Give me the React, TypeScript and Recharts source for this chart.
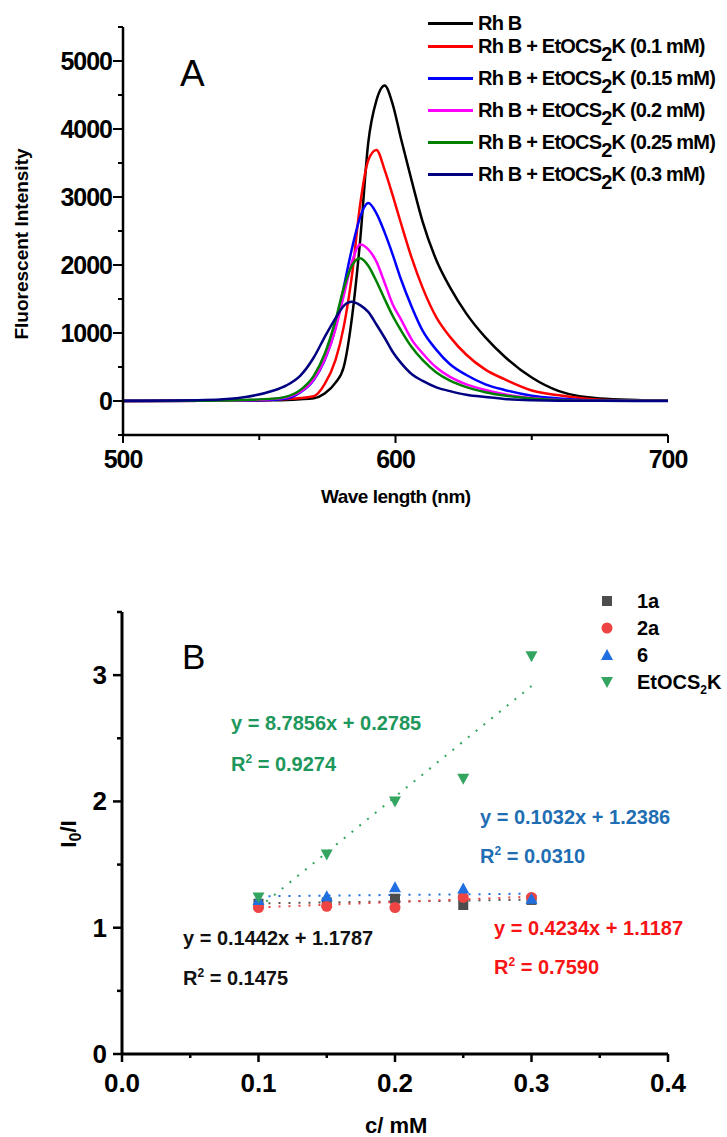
import { LineChart, Line, XAxis, YAxis, ComposedChart, Scatter, Legend } from 'recharts';

const FONT = '"Liberation Sans", Arial, sans-serif';

// ---- panel A: emission spectra ----
const wavelength = [500, 530, 545, 555, 560, 565, 570, 574, 578, 581, 584, 587, 590, 593, 596, 599, 602, 606, 610, 615, 620, 626, 633, 640, 650, 660, 675, 700];
const rhB = [0, 2, 5, 10, 15, 25, 40, 110, 270, 500, 1220, 2350, 3800, 4420, 4640, 4360, 3860, 3230, 2630, 2070, 1670, 1285, 935, 655, 345, 145, 38, 4];
const etoc01 = [0, 3, 8, 18, 30, 45, 70, 248, 604, 1090, 1840, 2880, 3540, 3690, 3400, 3020, 2614, 2097, 1660, 1230, 943, 680, 462, 320, 155, 84, 20, 4];
const etoc015 = [0, 3, 8, 18, 35, 125, 310, 600, 1080, 1670, 2238, 2700, 2910, 2760, 2480, 2150, 1790, 1380, 1030, 752, 540, 382, 245, 163, 77, 38, 8, 2];
const etoc02 = [0, 3, 12, 30, 55, 135, 320, 610, 1062, 1549, 2040, 2301, 2230, 2050, 1740, 1420, 1200, 900, 699, 492, 354, 244, 162, 98, 45, 14, 4, 2];
const etoc025 = [0, 5, 15, 35, 65, 160, 370, 690, 1190, 1660, 1990, 2100, 1990, 1760, 1500, 1250, 1040, 790, 600, 420, 300, 205, 130, 80, 35, 12, 4, 2];
const etoc03 = [2, 15, 60, 150, 230, 370, 640, 940, 1220, 1400, 1460, 1410, 1310, 1125, 930, 720, 560, 393, 295, 200, 145, 92, 58, 31, 12, 4, 2, 1];

const specKeys = ['rhb', 'c01', 'c015', 'c02', 'c025', 'c03'];
const specColors = ['#000000', '#ff0000', '#0000ff', '#ff00ff', '#008000', '#000080'];
const specConc = ['', '0.1', '0.15', '0.2', '0.25', '0.3'];
const waveTicks = [500, 550, 600, 650, 700];
const intensityTicks = [-500, 0, 500, 1000, 1500, 2000, 2500, 3000, 3500, 4000, 4500, 5000, 5500];

const specData = wavelength.map((wl, i) => ({
  wl,
  rhb: rhB[i],
  c01: etoc01[i],
  c015: etoc015[i],
  c02: etoc02[i],
  c025: etoc025[i],
  c03: etoc03[i],
}));

// ---- panel B: I0/I vs concentration ----
const conc = [0.1, 0.15, 0.2, 0.25, 0.3];
const ratio1a = [1.19, 1.2, 1.23, 1.18, 1.22];
const ratio2a = [1.16, 1.17, 1.16, 1.24, 1.24];
const ratio6 = [1.22, 1.25, 1.32, 1.31, 1.23];
const ratioEt = [1.24, 1.58, 2.0, 2.18, 3.15];

const quencherNames = ['1a', '2a', '6', 'EtOCS2K'];
const fitSlope = [0.1442, 0.4234, 0.1032, 8.7856];
const fitIntercept = [1.1787, 1.1187, 1.2386, 0.2785];
const fitR2 = [0.1475, 0.759, 0.031, 0.9274];
const concTicks = [0, 0.05, 0.1, 0.15, 0.2, 0.25, 0.3, 0.35, 0.4];
const ratioTicks = [0, 0.5, 1, 1.5, 2, 2.5, 3, 3.5];

const markerColors = ['#4d4d4d', '#ef4444', '#1f6fe0', '#33a560'];
const fitColors = ['#555555', '#ef4444', '#1f6fe0', '#33a560'];
const noteColors = ['#111111', '#f81414', '#1f6eb4', '#1d975b'];
const notePos = [
  { x: 183, y: 938, y2: 978 },
  { x: 494, y: 928, y2: 967 },
  { x: 480, y: 817, y2: 856 },
  { x: 231, y: 723, y2: 764 },
];

const ratios = [ratio1a, ratio2a, ratio6, ratioEt];
const points = ratios.map((r) => conc.map((x, i) => ({ x, y: r[i] })));
const fitLines = fitSlope.map((m, k) =>
  [conc[0], conc[conc.length - 1]].map((x) => ({ x, y: m * x + fitIntercept[k] }))
);

function Marker({ kind, cx, cy, color }: { kind: number; cx: number; cy: number; color: string }) {
  if (kind === 0) return <rect x={cx - 5} y={cy - 5} width={10} height={10} fill={color} />;
  if (kind === 1) return <circle cx={cx} cy={cy} r={5.5} fill={color} />;
  if (kind === 2) return <path d={`M${cx},${cy - 6} L${cx + 6},${cy + 5} L${cx - 6},${cy + 5} Z`} fill={color} />;
  return <path d={`M${cx - 6},${cy - 5} L${cx + 6},${cy - 5} L${cx},${cy + 6} Z`} fill={color} />;
}

const tickFont = { fontFamily: FONT, fontWeight: 700, fill: '#000' };

function YTickA({ x, y, payload }: any) {
  const major = payload.value % 1000 === 0;
  return (
    <g>
      <line x1={x} x2={x - (major ? 10 : 5)} y1={y} y2={y} stroke="#000" strokeWidth={2} />
      {major && (
        <text x={x - 11} y={y} textAnchor="end" dominantBaseline="central" fontSize={25} letterSpacing={-1} {...tickFont}>
          {payload.value}
        </text>
      )}
    </g>
  );
}

function XTickA({ x, y, payload }: any) {
  const major = payload.value % 100 === 0;
  return (
    <g>
      <line x1={x} x2={x} y1={y} y2={y + (major ? 8 : 5)} stroke="#000" strokeWidth={2} />
      {major && (
        <text x={x} y={y + 24} textAnchor="middle" dominantBaseline="central" fontSize={25} letterSpacing={-1} {...tickFont}>
          {payload.value}
        </text>
      )}
    </g>
  );
}

function YTickB({ x, y, payload }: any) {
  const major = Number.isInteger(payload.value);
  return (
    <g>
      <line x1={x} x2={x - (major ? 9 : 5)} y1={y} y2={y} stroke="#000" strokeWidth={2.5} />
      {major && (
        <text x={x - 15} y={y} textAnchor="end" dominantBaseline="central" fontSize={26} {...tickFont}>
          {payload.value}
        </text>
      )}
    </g>
  );
}

function XTickB({ x, y, payload }: any) {
  const v = payload.value;
  const major = Math.abs(v * 10 - Math.round(v * 10)) < 1e-6;
  return (
    <g>
      <line x1={x} x2={x} y1={y} y2={y + (major ? 8 : 4)} stroke="#000" strokeWidth={2.5} />
      {major && (
        <text x={x} y={y + 29} textAnchor="middle" dominantBaseline="central" fontSize={26} {...tickFont}>
          {v.toFixed(1)}
        </text>
      )}
    </g>
  );
}

function SpectraLegend() {
  return (
    <div style={{ fontFamily: FONT, fontWeight: 700, fontSize: 20, letterSpacing: -0.8, color: '#000' }}>
      {specKeys.map((k, i) => (
        <div key={k} style={{ height: 23, paddingBottom: i ? 9 : 0, display: 'flex', alignItems: 'center', whiteSpace: 'nowrap' }}>
          <span style={{ display: 'inline-block', width: 45, height: 3, background: specColors[i], marginRight: 5 }} />
          {i === 0 ? (
            <span>Rh B</span>
          ) : (
            <span>
              Rh B + EtOCS<span style={{ position: 'relative', top: 8 }}>2</span>K ({specConc[i]} mM)
            </span>
          )}
        </div>
      ))}
    </div>
  );
}

function QuencherLegend() {
  return (
    <div style={{ fontFamily: FONT, fontWeight: 700, fontSize: 20, color: '#000' }}>
      {quencherNames.map((n, i) => (
        <div key={n} style={{ height: 27, display: 'flex', alignItems: 'center', whiteSpace: 'nowrap' }}>
          <svg width={20} height={20} style={{ marginRight: 20 }}>
            <Marker kind={i} cx={10} cy={10} color={markerColors[i]} />
          </svg>
          {n === 'EtOCS2K' ? (
            <span>
              EtOCS<span style={{ fontSize: 12, position: 'relative', top: 5 }}>2</span>K
            </span>
          ) : (
            <span>{n}</span>
          )}
        </div>
      ))}
    </div>
  );
}

function Note({ x, y, size, color, weight = 700, children }: any) {
  return (
    <div
      style={{
        position: 'absolute',
        left: x,
        top: y - size * 0.5,
        fontSize: size,
        lineHeight: 1,
        color,
        fontWeight: weight,
        whiteSpace: 'nowrap',
      }}
    >
      {children}
    </div>
  );
}

function Rotated({ cx, cy, size, children }: any) {
  return (
    <div
      style={{
        position: 'absolute',
        left: cx,
        top: cy,
        fontSize: size,
        fontWeight: 700,
        lineHeight: 1,
        whiteSpace: 'nowrap',
        transform: 'translate(-50%, -50%) rotate(-90deg)',
      }}
    >
      {children}
    </div>
  );
}

export default function App() {
  return (
    <div style={{ position: 'absolute', left: 0, top: 0, width: 727, height: 1137, background: '#fff', fontFamily: FONT, color: '#000', overflow: 'hidden' }}>
      <div style={{ position: 'absolute', left: 0, top: 0 }}>
        <LineChart width={727} height={520} data={specData} margin={{ top: 27, right: 59, bottom: 45, left: 53 }}>
          <XAxis
            dataKey="wl"
            type="number"
            domain={[500, 700]}
            ticks={waveTicks}
            interval={0}
            height={40}
            tickSize={0}
            tickMargin={0}
            tickLine={false}
            axisLine={{ stroke: '#000', strokeWidth: 2.5 }}
            tick={(p: any) => <XTickA {...p} />}
          />
          <YAxis
            type="number"
            domain={[-500, 5500]}
            ticks={intensityTicks}
            interval={0}
            width={70}
            tickSize={0}
            tickMargin={0}
            tickLine={false}
            allowDataOverflow
            axisLine={{ stroke: '#000', strokeWidth: 2.5 }}
            tick={(p: any) => <YTickA {...p} />}
          />
          <Legend
            layout="vertical"
            align="center"
            verticalAlign="middle"
            content={() => <SpectraLegend />}
            wrapperStyle={{ left: 428, top: 11.5, width: 299 }}
          />
          {specKeys.map((k, i) => (
            <Line
              key={k}
              type="monotone"
              dataKey={k}
              stroke={specColors[i]}
              strokeWidth={2.5}
              dot={false}
              isAnimationActive={false}
            />
          ))}
        </LineChart>
      </div>

      <Note x={180} y={73} size={37} color="#000" weight={400}>A</Note>
      <Rotated cx={21} cy={244} size={19}>Fluorescent Intensity</Rotated>
      <Note x={321} y={496} size={19} color="#000">
        <span style={{ letterSpacing: -0.5 }}>Wave length (nm)</span>
      </Note>

      <div style={{ position: 'absolute', left: 0, top: 560 }}>
        <ComposedChart width={727} height={577} margin={{ top: 52, right: 59, bottom: 43, left: 52 }}>
          <XAxis
            dataKey="x"
            type="number"
            domain={[0, 0.4]}
            ticks={concTicks}
            interval={0}
            height={40}
            tickSize={0}
            tickMargin={0}
            tickLine={false}
            allowDataOverflow
            axisLine={{ stroke: '#000', strokeWidth: 3 }}
            tick={(p: any) => <XTickB {...p} />}
          />
          <YAxis
            dataKey="y"
            type="number"
            domain={[0, 3.5]}
            ticks={ratioTicks}
            interval={0}
            width={70}
            tickSize={0}
            tickMargin={0}
            tickLine={false}
            allowDataOverflow
            axisLine={{ stroke: '#000', strokeWidth: 3 }}
            tick={(p: any) => <YTickB {...p} />}
          />
          <Legend
            layout="vertical"
            align="center"
            verticalAlign="middle"
            content={() => <QuencherLegend />}
            wrapperStyle={{ left: 597, top: 27.5, width: 130 }}
          />
          {fitLines.map((d, k) => (
            <Line
              key={'fit' + k}
              data={d}
              dataKey="y"
              type="linear"
              stroke={fitColors[k]}
              strokeWidth={2}
              strokeDasharray="2 8"
              dot={false}
              isAnimationActive={false}
            />
          ))}
          {points.map((d, k) => (
            <Scatter
              key={quencherNames[k]}
              name={quencherNames[k]}
              data={d}
              dataKey="y"
              isAnimationActive={false}
              shape={(p: any) => <Marker kind={k} cx={p.cx} cy={p.cy} color={markerColors[k]} />}
            />
          ))}
        </ComposedChart>
      </div>

      <Note x={182} y={656} size={35} color="#000" weight={400}>B</Note>
      <Rotated cx={69} cy={834} size={22}>
        I<span style={{ fontSize: 16, position: 'relative', top: 5 }}>0</span>/I
      </Rotated>
      <Note x={365} y={1126} size={22} color="#000">c/ mM</Note>

      {fitSlope.map((m, k) => (
        <div key={'note' + k}>
          <Note x={notePos[k].x} y={notePos[k].y} size={20} color={noteColors[k]}>
            y = {m.toFixed(4)}x + {fitIntercept[k].toFixed(4)}
          </Note>
          <Note x={notePos[k].x} y={notePos[k].y2} size={20} color={noteColors[k]}>
            R<span style={{ fontSize: 12, position: 'relative', top: -8 }}>2</span> = {fitR2[k].toFixed(4)}
          </Note>
        </div>
      ))}
    </div>
  );
}
